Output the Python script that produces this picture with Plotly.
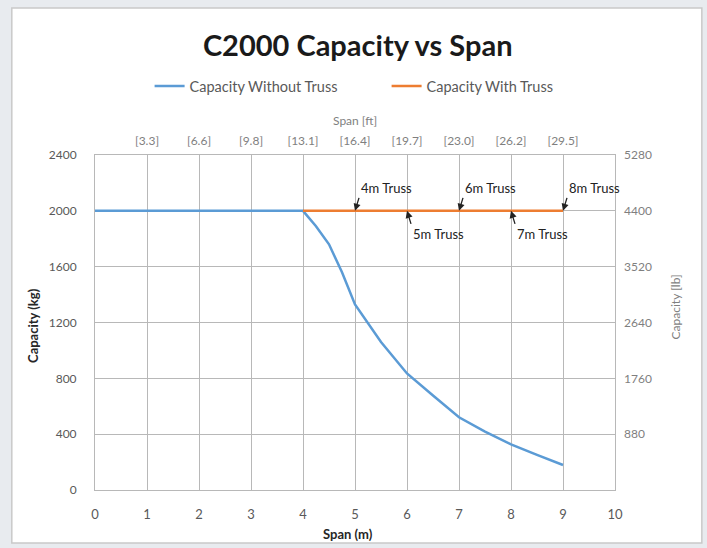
import plotly.graph_objects as go

# ---- data ----
span_without = [0, 1, 2, 3, 4, 4.25, 4.5, 4.75, 5, 5.5, 6, 6.5, 7, 7.5, 8, 8.5, 9]
cap_without = [2000, 2000, 2000, 2000, 2000, 1890, 1760, 1560, 1330, 1060, 835, 677, 521, 418, 327, 251, 179]
span_with = [4, 5, 6, 7, 8, 9]
cap_with = [2000, 2000, 2000, 2000, 2000, 2000]
truss_labels = ["4m Truss", "5m Truss", "6m Truss", "7m Truss", "8m Truss"]
truss_spans = [5, 6, 7, 8, 9]
truss_above = [True, False, True, False, True]
ft_tickvals = [1, 2, 3, 4, 5, 6, 7, 8, 9]
ft_ticktext = ["[3.3]", "[6.6]", "[9.8]", "[13.1]", "[16.4]", "[19.7]", "[23.0]", "[26.2]", "[29.5]"]
kg_ticks = [0, 400, 800, 1200, 1600, 2000, 2400]
lb_ticks = [880, 1760, 2640, 3520, 4400, 5280]
KG_TO_LB = 2.2

FONT = "Lato"
GRID = "#b8b8b8"

fig = go.Figure()
fig.add_trace(go.Scatter(x=span_without, y=cap_without, mode="lines",
                         name="Capacity Without Truss",
                         line=dict(color="#5b9bd5", width=2.5)))
fig.add_trace(go.Scatter(x=span_with, y=cap_with, mode="lines",
                         name="Capacity With Truss",
                         line=dict(color="#ed7d31", width=2.5)))
# invisible trace to carry the secondary (top/right) axes
fig.add_trace(go.Scatter(x=span_with, y=[c * KG_TO_LB for c in cap_with], mode="lines",
                         xaxis="x2", yaxis="y2", showlegend=False, hoverinfo="skip",
                         line=dict(color="rgba(0,0,0,0)", width=0)))

annotations = []
for lab, sx, above in zip(truss_labels, truss_spans, truss_above):
    annotations.append(dict(
        x=sx, y=2000, xref="x", yref="y", text=lab, showarrow=True,
        arrowhead=2, arrowsize=1.1, arrowwidth=1.3, arrowcolor="#222222",
        ax=4, ay=-13 if above else 13,
        xanchor="left", yanchor="bottom" if above else "top",
        font=dict(family=FONT, size=13, color="#222222")))

# axis titles
annotations += [
    dict(text="<b>Span (m)</b>", x=0.487, y=-0.13, xref="paper", yref="paper",
         xanchor="center", yanchor="middle",
         showarrow=False, font=dict(family=FONT, size=13, color="#262626")),
    dict(text="Span [ft]", x=0.5, y=1.104, xref="paper", yref="paper",
         xanchor="center", yanchor="middle",
         showarrow=False, font=dict(family=FONT, size=12, color="#7f7f7f")),
    dict(text="<b>Capacity (kg)</b>", x=-0.119, y=0.49, xref="paper", yref="paper",
         xanchor="center", yanchor="middle",
         textangle=-90, showarrow=False, font=dict(family=FONT, size=13, color="#262626")),
    dict(text="Capacity [lb]", x=1.116, y=0.546, xref="paper", yref="paper",
         xanchor="center", yanchor="middle",
         textangle=-90, showarrow=False, font=dict(family=FONT, size=12, color="#7f7f7f")),
]

fig.update_layout(
    width=707, height=548,
    margin=dict(l=95, r=92, t=155, b=58),
    paper_bgcolor="#e8ebef",
    plot_bgcolor="white",
    title=dict(text="<b>C2000 Capacity vs Span</b>", x=0.506, xanchor="center",
               y=0.917, yanchor="middle", font=dict(family=FONT, size=29, color="#1a1a1a")),
    legend=dict(orientation="h", x=0.105, xanchor="left", y=1.206, yanchor="middle",
                font=dict(family=FONT, size=14.5, color="#595959"), bgcolor="rgba(0,0,0,0)",
                entrywidth=192, entrywidthmode="pixels", tracegroupgap=0),
    xaxis=dict(range=[0, 10], dtick=1, showgrid=True, gridcolor=GRID, gridwidth=1,
               zeroline=False, showline=True, linecolor=GRID, mirror=True,
               ticks="", ticklabelstandoff=12,
               tickfont=dict(family=FONT, size=13, color="#595959")),
    yaxis=dict(range=[0, 2400], tickvals=kg_ticks, showgrid=True, gridcolor=GRID, gridwidth=1,
               zeroline=False, showline=True, linecolor=GRID, mirror=True,
               ticks="", ticklabelstandoff=15,
               tickfont=dict(family=FONT, size=12, color="#595959")),
    xaxis2=dict(range=[0, 10], overlaying="x", side="top", tickvals=ft_tickvals,
                ticktext=ft_ticktext, showgrid=False, zeroline=False, ticks="",
                ticklabelstandoff=7,
                tickfont=dict(family=FONT, size=12, color="#7f7f7f")),
    yaxis2=dict(range=[0, 2400 * KG_TO_LB], overlaying="y", side="right", tickvals=lb_ticks,
                showgrid=False, zeroline=False, ticks="", ticklabelstandoff=8,
                tickfont=dict(family=FONT, size=12, color="#7f7f7f")),
    annotations=annotations,
    shapes=[dict(type="rect", xref="paper", yref="paper", x0=-0.16, x1=1.167,
                 y0=-0.158, y1=1.439, fillcolor="white", line=dict(color="#c9c9c9", width=1.5),
                 layer="below")],
    showlegend=True,
)

fig.write_html("out.html", config={"displayModeBar": False},
               post_script="document.body.style.margin='0px';")
